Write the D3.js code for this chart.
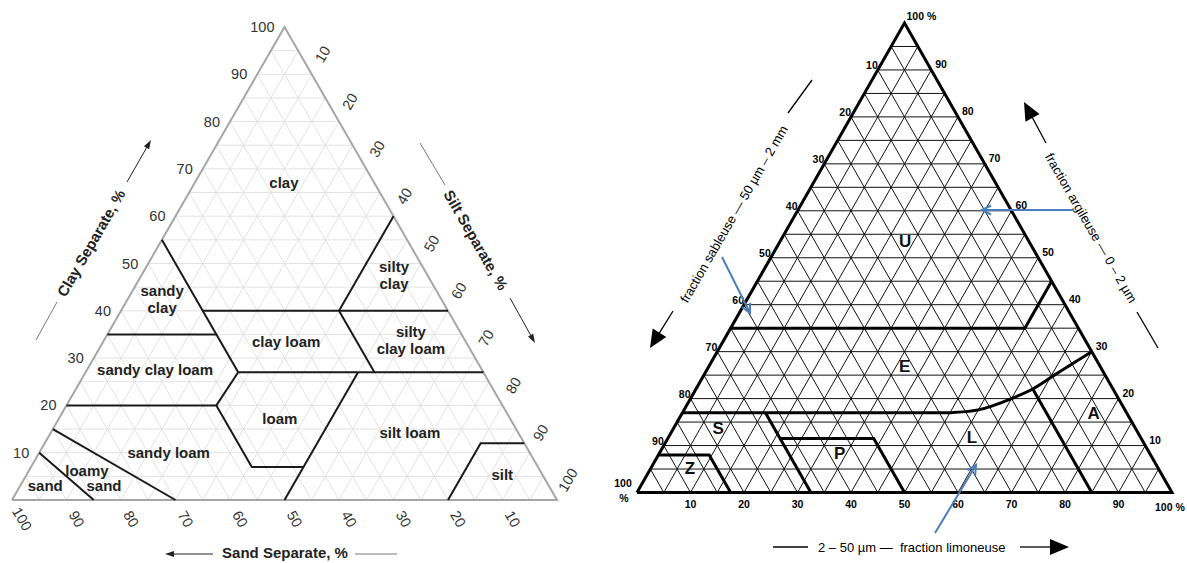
<!DOCTYPE html>
<html><head><meta charset="utf-8">
<script src="https://cdn.jsdelivr.net/npm/d3@7"></script>
<style>
body{margin:0;background:#fff;}
svg{display:block;font-family:Arial,"Liberation Sans",Helvetica,sans-serif;}
</style>
</head><body>
<svg id="c" width="1187" height="563"></svg>
<script>
// ---------- LEFT: USDA texture triangle (points as [clay, silt]) ----------
const usdaClayTicks = [10,20,30,40,50,60,70,80,90,100];
const usdaSiltTicks = [10,20,30,40,50,60,70,80,90,100];
const usdaSandTicks = [100,90,80,70,60,50,40,30,20,10];
const usdaBoundaries = [
  [[10,0],[0,15]],
  [[15,0],[0,30]],
  [[20,0],[20,27.5],[7,40.5],[7,50]],
  [[0,50],[27,50]],
  [[20,27.5],[27,28]],
  [[55,0],[27,28]],
  [[35,0],[35,20]],
  [[27,28],[27,73]],
  [[40,15],[40,60]],
  [[27,53],[40,40]],
  [[40,40],[60,40]],
  [[0,80],[12,80],[12,88]]
];
const usdaLabels = [
  {t:["clay"], p:[67.2,16.3]},
  {t:["silty","clay"], p:[47.6,46.3]},
  {t:["sandy","clay"], p:[42.5,6.3]},
  {t:["clay loam"], p:[33.6,33.5]},
  {t:["silty","clay loam"], p:[33.8,56.3]},
  {t:["sandy clay loam"], p:[27.5,12.5]},
  {t:["loam"], p:[17.3,40.5]},
  {t:["silt loam"], p:[14.2,65.9]},
  {t:["sandy loam"], p:[10.1,23.7]},
  {t:["loamy"], p:[6.3,10.6]},
  {t:["sand"], p:[2.96,15.4]},
  {t:["sand"], p:[3.0,4.6]},
  {t:["silt"], p:[5.3,87.3]}
];

// ---------- RIGHT: Belgian texture triangle (points as [clay, silt]) ----------
const frSandTicks = [10,20,30,40,50,60,70,80,90];
const frClayTicks = [10,20,30,40,50,60,70,80,90];
const frSiltTicks = [10,20,30,40,50,60,70,80,90];
const frBoundaries = [
  [[8,0],[8,9.5],[0,17.5]],
  [[17,0],[17,50]],
  [[17,15.5],[0,32.5]],
  [[11.5,21],[11.5,38.5],[0,50]],
  [[22.2,62.8],[0,85]],
  [[35,0],[35,55],[45,55]]
];
const frCurve = [[17,50],[17.6,55],[20,60],[22.2,63.1],[25,65.5],[30,70]];
const frLabels = [
  {t:"U", p:[53.4,23.4]},
  {t:"E", p:[26.9,36.6]},
  {t:"S", p:[13.7,8.3]},
  {t:"Z", p:[5.2,7.3]},
  {t:"P", p:[8.4,33.7]},
  {t:"L", p:[11.8,56.7]},
  {t:"A", p:[16.9,76.9]}
];

// ---------- helpers ----------
function ternary(xL, xR, yB, yT){
  const xs = d3.scaleLinear().domain([0,100]).range([xL,xR]);
  const ys = d3.scaleLinear().domain([0,100]).range([yB,yT]);
  return ([c,s]) => [xs(s + c/2), ys(c)];
}
function gridLines(step){
  const out = [];
  d3.range(step, 100, step).forEach(v => {
    out.push([[v,0],[v,100-v]]);        // constant clay
    out.push([[0,v],[100-v,v]]);        // constant silt
    out.push([[0,100-v],[100-v,0]]);    // constant sand
  });
  return out;
}
function arrow(g, x1,y1,x2,y2, len, w, color, lw, open){
  const dx=x2-x1, dy=y2-y1, L=Math.hypot(dx,dy), ux=dx/L, uy=dy/L;
  const bx=x2-ux*len, by=y2-uy*len;
  const p1=[bx-uy*w/2, by+ux*w/2], p2=[bx+uy*w/2, by-ux*w/2];
  if(open){
    g.append("line").attr("x1",x1).attr("y1",y1).attr("x2",x2).attr("y2",y2)
      .attr("stroke",color).attr("stroke-width",lw);
    g.append("path").attr("d",`M${p1[0]},${p1[1]}L${x2},${y2}L${p2[0]},${p2[1]}`)
      .attr("fill","none").attr("stroke",color).attr("stroke-width",lw);
  } else {
    g.append("line").attr("x1",x1).attr("y1",y1).attr("x2",bx+ux*1).attr("y2",by+uy*1)
      .attr("stroke",color).attr("stroke-width",lw);
    g.append("path").attr("d",`M${x2},${y2}L${p1[0]},${p1[1]}L${p2[0]},${p2[1]}Z`).attr("fill",color);
  }
}
function seg(g,x1,y1,x2,y2,color,lw){
  g.append("line").attr("x1",x1).attr("y1",y1).attr("x2",x2).attr("y2",y2)
    .attr("stroke",color).attr("stroke-width",lw);
}

const svg = d3.select("#c");

// ================= LEFT CHART =================
{
  const P = ternary(12, 557, 500, 27);
  const line = d3.line().x(d=>P(d)[0]).y(d=>P(d)[1]);
  const g = svg.append("g");
  g.selectAll(".gl").data(gridLines(5)).join("path")
    .attr("d", line).attr("fill","none").attr("stroke","#e2e2e2").attr("stroke-width",1);
  g.append("path").attr("d", line([[0,0],[100,0],[0,100],[0,0]]))
    .attr("fill","none").attr("stroke","#a6a6a6").attr("stroke-width",2);
  g.selectAll(".bd").data(usdaBoundaries).join("path")
    .attr("d", line).attr("fill","none").attr("stroke","#1a1a1a").attr("stroke-width",2)
    .attr("stroke-linejoin","miter");
  usdaLabels.forEach(l => {
    const [x,y] = P(l.p);
    const n = l.t.length;
    l.t.forEach((s,i) => {
      g.append("text").attr("x",x).attr("y", y + (i-(n-1)/2)*17)
        .attr("text-anchor","middle").attr("dominant-baseline","central")
        .attr("font-size",15).attr("font-weight","bold").attr("fill","#222").text(s);
    });
  });
  usdaClayTicks.forEach(v => {
    const [x,y] = P([v,0]);
    g.append("text").attr("x",x-10).attr("y",y).attr("text-anchor","end")
      .attr("dominant-baseline","central").attr("font-size",14.5).attr("fill","#333").text(v);
  });
  usdaSiltTicks.forEach(v => {
    const [x,y] = P([100-v,v]);
    g.append("text").attr("transform",`translate(${x+11},${y-20}) rotate(-60)`)
      .attr("text-anchor","middle").attr("dominant-baseline","central")
      .attr("font-size",14.5).attr("fill","#333").text(v);
  });
  usdaSandTicks.forEach(v => {
    const [x,y] = P([0,100-v]);
    g.append("text").attr("transform",`translate(${x+10},${y+19}) rotate(60)`)
      .attr("text-anchor","middle").attr("dominant-baseline","central")
      .attr("font-size",14.5).attr("fill","#333").text(v);
  });
  g.append("text").attr("transform","translate(91,243) rotate(-60)")
    .attr("text-anchor","middle").attr("dominant-baseline","central")
    .attr("font-size",15).attr("font-weight","bold").attr("fill","#222").text("Clay Separate, %");
  seg(g,36,340,57,302,"#777",1);
  arrow(g,127,182,151,140,9,6,"#222",1);
  g.append("text").attr("transform","translate(476,240) rotate(60)")
    .attr("text-anchor","middle").attr("dominant-baseline","central")
    .attr("font-size",15).attr("font-weight","bold").attr("fill","#222").text("Silt Separate, %");
  seg(g,420,143,445,185,"#777",1);
  arrow(g,510,298,535,343,9,6,"#222",1);
  g.append("text").attr("x",285).attr("y",558).attr("text-anchor","middle")
    .attr("font-size",15).attr("font-weight","bold").attr("fill","#222").text("Sand Separate, %");
  arrow(g,213,554,165,554,9,6,"#222",1);
  seg(g,355,554,397,554,"#777",1);
}

// ================= RIGHT CHART =================
{
  const P = ternary(637, 1172, 492.5, 23);
  const line = d3.line().x(d=>P(d)[0]).y(d=>P(d)[1]);
  const g = svg.append("g");
  g.selectAll(".gl").data(gridLines(5)).join("path")
    .attr("d", line).attr("fill","none").attr("stroke","#111").attr("stroke-width",1);
  g.selectAll(".bd").data(frBoundaries).join("path")
    .attr("d", line).attr("fill","none").attr("stroke","#000").attr("stroke-width",3)
    .attr("stroke-linejoin","miter");
  g.append("path").attr("d", d3.line().x(d=>P(d)[0]).y(d=>P(d)[1]).curve(d3.curveMonotoneX)(frCurve))
    .attr("fill","none").attr("stroke","#000").attr("stroke-width",3);
  g.append("path").attr("d", line([[0,0],[100,0],[0,100],[0,0]]))
    .attr("fill","none").attr("stroke","#000").attr("stroke-width",3).attr("stroke-linejoin","miter");
  frLabels.forEach(l => {
    const [x,y] = P(l.p);
    g.append("text").attr("x",x).attr("y",y).attr("text-anchor","middle")
      .attr("dominant-baseline","central").attr("font-size",17).attr("font-weight","bold")
      .attr("fill","#111").text(l.t);
  });
  frSandTicks.forEach(v => {
    const [x,y] = P([100-v,0]);
    g.append("text").attr("x",x).attr("y",y-1).attr("text-anchor","end")
      .attr("font-size",10.5).attr("font-weight","bold").attr("fill","#000").text(v);
  });
  frClayTicks.forEach(v => {
    const [x,y] = P([v,100-v]);
    g.append("text").attr("x",x+4).attr("y",y-2).attr("text-anchor","start")
      .attr("font-size",10.5).attr("font-weight","bold").attr("fill","#000").text(v);
  });
  frSiltTicks.forEach(v => {
    const [x,y] = P([0,v]);
    g.append("text").attr("x",x).attr("y",y+15.5).attr("text-anchor","middle")
      .attr("font-size",10.5).attr("font-weight","bold").attr("fill","#000").text(v);
  });
  const apex = P([100,0]), bl = P([0,0]), br = P([0,100]);
  g.append("text").attr("x",apex[0]+2).attr("y",apex[1]-3).attr("font-size",10.5)
    .attr("font-weight","bold").text("100 %");
  g.append("text").attr("x",bl[0]-14).attr("y",bl[1]-6).attr("text-anchor","middle")
    .attr("font-size",10.5).attr("font-weight","bold").text("100");
  g.append("text").attr("x",bl[0]-13).attr("y",bl[1]+9).attr("text-anchor","middle")
    .attr("font-size",10.5).attr("font-weight","bold").text("%");
  g.append("text").attr("x",br[0]-17).attr("y",br[1]+18).attr("font-size",10.5)
    .attr("font-weight","bold").text("100 %");
  g.append("text").attr("transform","translate(734,214) rotate(-60)")
    .attr("text-anchor","middle").attr("dominant-baseline","central")
    .attr("font-size",13).attr("fill","#000").text("fraction sableuse \u2014 50 \u00b5m \u2013 2 mm");
  seg(g,788,113,812,80,"#000",1.3);
  arrow(g,673,311,650,348,18,16,"#000",1.3);
  g.append("text").attr("transform","translate(1091,228) rotate(60)")
    .attr("text-anchor","middle").attr("dominant-baseline","central")
    .attr("font-size",13).attr("fill","#000").text("fraction argileuse \u2014 0 \u2013 2 \u00b5m");
  arrow(g,1046,143,1024,102,18,16,"#000",1.3);
  seg(g,1137,312,1158,348,"#000",1.3);
  g.append("text").attr("x",818).attr("y",552).attr("font-size",13).attr("fill","#000")
    .attr("xml:space","preserve").style("white-space","pre")
    .text("2 \u2013 50 \u00b5m \u2014  fraction limoneuse");
  seg(g,773,547,808,547,"#000",1.3);
  arrow(g,1020,547,1069,547,19,16,"#000",1.3);
  arrow(g,722,257,750,313,9,9,"#4a7ebb",2,true);
  arrow(g,1073,210,982,210,9,9,"#4a7ebb",2,true);
  arrow(g,935,533,976,465,9,9,"#4a7ebb",2,true);
}
</script>
</body></html>
